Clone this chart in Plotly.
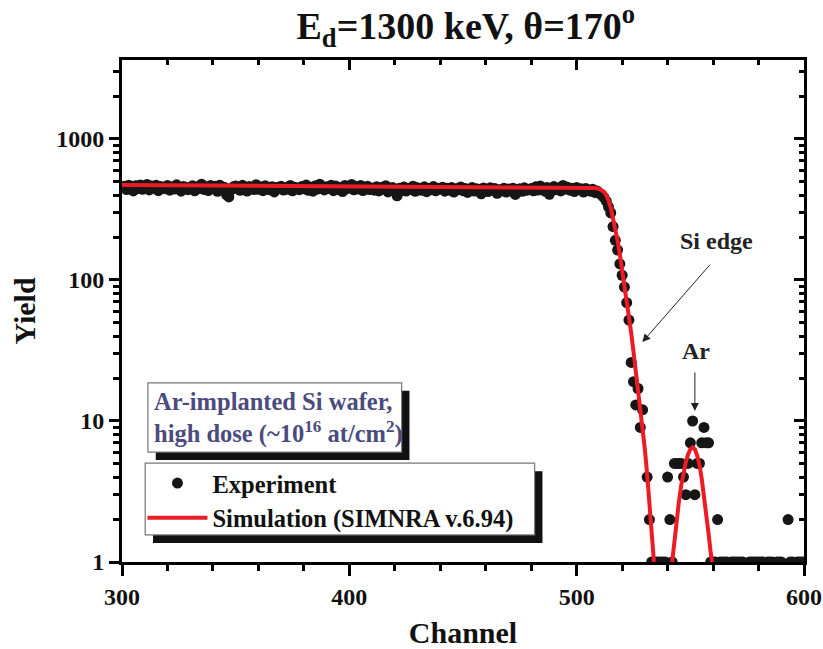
import plotly.graph_objects as go

# ---------------- data ----------------
exp_start = 300
exp_yield = [
    450, 462, 438, 470, 455, 428, 466, 445, 472, 440,
    458, 476, 435, 463, 449, 470, 430, 461, 452, 444,
    468, 433, 457, 441, 473, 448, 426, 460, 454, 437,
    451, 465, 429, 459, 446, 478, 439, 456, 431, 467,
    447, 462, 425, 470, 443, 455, 402, 388, 436, 458,
    464, 442, 432, 469, 450, 427, 461, 445, 438, 474,
    440, 457, 430, 466, 448, 436, 459, 421, 453, 446,
    462, 434, 451, 440, 468, 429, 455, 447, 437, 460,
    443, 471, 432, 452, 426, 465, 441, 478, 449, 435,
    458, 446, 470, 430, 463, 439, 453, 424, 467, 444,
    455, 476, 436, 460, 442, 468, 431, 450, 462, 438,
    447, 433, 459, 428, 453, 444, 466, 421, 440, 452,
    436, 395, 448, 430, 457, 427, 445, 439, 462, 425,
    450, 441, 432, 458, 423, 446, 437, 460, 429, 448,
    442, 455, 426, 447, 433, 452, 420, 444, 438, 457,
    430, 446, 418, 440, 452, 427, 443, 435, 408, 449,
    439, 424, 451, 433, 445, 412, 437, 428, 447, 420,
    441, 430, 448, 404, 436, 443, 425, 450, 432, 438,
    446, 429, 458, 434, 463, 440, 426, 452, 405, 444,
    460, 437, 449, 428, 468, 441, 455, 433, 447, 424,
    452, 438, 444, 420, 446, 432, 426, 440, 418, 428,   # 500-509
    412, 400, 385, 362, 330, 299, 239, 191, 163, 130,   # 510-519
    108, 89, 69, 52, 26, 19, 13, 17, 9, 12,             # 520-529
    0, 4, 2, 1, 1, 1, 1, 1, 1, 1,                       # 530-539
    4, 2, 1, 5, 5, 5, 5, 4, 3, 5,                       # 540-549
    7, 10, 3, 5, 5, 7, 9, 7, 7, 1,                      # 550-559
    1, 1, 2, 1, 1, 1, 1, 0, 1, 1,                       # 560-569
    1, 1, 1, 1, 0, 0, 1, 1, 1, 1,                       # 570-579
    1, 1, 1, 0, 1, 1, 1, 0, 1, 1,                       # 580-589
    1, 0, 0, 2, 1, 1, 0, 1, 1, 1,                       # 590-599
    1,                                                  # 600
]
exp_channel = list(range(exp_start, exp_start + len(exp_yield)))

sim_channel = [300, 350, 400, 450, 490, 500, 505, 508, 510, 511, 512, 513,
               514, 515, 516, 517, 518, 519, 520, 521, 522, 523, 524, 525,
               526, 527, 528, 529, 530, 531, 532, 533, 534, None,
               542, 543, 544, 545, 546, 547, 548, 549, 550, 551, 552, 553,
               554, 555, 556, 557, 558, 559, 559.6]
sim_yield = [472, 468, 464, 460, 457, 455, 453, 449, 442, 435, 422, 400,
             368, 325, 278, 232, 190, 152, 120, 94, 73, 56, 42, 31,
             23, 17, 13, 9.5, 6.3, 4.2, 2.7, 1.7, 1.0, None,
             1.0, 1.45, 2.0, 2.7, 3.5, 4.3, 5.1, 5.8, 6.3, 6.5, 6.3, 5.7,
             4.9, 3.9, 3.0, 2.2, 1.6, 1.15, 1.0]

x_major = [300, 400, 500, 600]
y_major = [1, 10, 100, 1000]
y_major_text = ["1", "10", "100", "1000"]

FONT = "Liberation Serif"
RED = "#ec1c24"

fig = go.Figure()
fig.add_trace(go.Scatter(
    x=exp_channel, y=exp_yield, mode="markers", name="Experiment",
    marker=dict(color="#161616", size=11, line=dict(width=0)),
))
fig.add_trace(go.Scatter(
    x=sim_channel, y=sim_yield, mode="lines", name="Simulation (SIMNRA v.6.94)",
    line=dict(color=RED, width=4), connectgaps=False,
))
fig.add_trace(go.Scatter(x=[], y=[], xaxis="x2", yaxis="y2", showlegend=False,
                         hoverinfo="skip"))

tickfont = dict(family=FONT, size=24, color="#111", weight="bold")

fig.update_layout(
    width=823, height=649,
    margin=dict(l=122, r=19, t=60, b=87),
    paper_bgcolor="white", plot_bgcolor="white",
    font=dict(family=FONT, color="#111"),
    title=dict(text="E<sub>d</sub>=1300 keV, θ=170<sup>o</sup>",
               font=dict(family=FONT, size=38, color="#111", weight="bold"),
               x=0.566, xanchor="center", yref="container", y=0.960, yanchor="middle"),
    xaxis=dict(range=[300, 600], tickvals=x_major, showgrid=False, zeroline=False,
               automargin=False,
               showline=True, linewidth=3, linecolor="black", mirror=False,
               ticks="outside", ticklen=11, tickwidth=3, tickcolor="black",
               minor=dict(dtick=20, tick0=300, ticks="outside", ticklen=6,
                          tickwidth=3, tickcolor="black", showgrid=False),
               tickfont=tickfont,
               title=dict(text="Channel", standoff=22,
                          font=dict(family=FONT, size=30, color="#111", weight="bold"))),
    yaxis=dict(type="log", range=[0, 3.56], tickvals=y_major, ticktext=y_major_text,
               showgrid=False, zeroline=False, automargin=False,
               showline=True, linewidth=3, linecolor="black", mirror=False,
               ticks="outside", ticklen=10, tickwidth=3, tickcolor="black",
               minor=dict(dtick="D1", ticks="outside", ticklen=6,
                          tickwidth=3, tickcolor="black", showgrid=False),
               tickfont=tickfont,
               title=dict(text="Yield", standoff=12,
                          font=dict(family=FONT, size=30, color="#111", weight="bold"))),
    xaxis2=dict(overlaying="x", side="top", anchor="y", range=[300, 600],
                automargin=False,
                tickvals=x_major, showticklabels=False, showgrid=False, zeroline=False,
                showline=True, linewidth=3, linecolor="black",
                ticks="inside", ticklen=10, tickwidth=3, tickcolor="black",
                minor=dict(dtick=20, tick0=300, ticks="inside", ticklen=5,
                           tickwidth=3, tickcolor="black", showgrid=False)),
    yaxis2=dict(overlaying="y", side="right", anchor="x", type="log", range=[0, 3.56],
                automargin=False,
                tickvals=y_major, showticklabels=False, showgrid=False, zeroline=False,
                showline=True, linewidth=3, linecolor="black",
                ticks="inside", ticklen=10, tickwidth=3, tickcolor="black",
                minor=dict(dtick="D1", ticks="inside", ticklen=5,
                           tickwidth=3, tickcolor="black", showgrid=False)),
    legend=dict(x=0.030, y=0.202, xanchor="left", yanchor="top",
                bgcolor="rgba(0,0,0,0)", borderwidth=0, itemwidth=60,
                font=dict(family=FONT, size=24.5, color="#111", weight="bold"),
                tracegroupgap=0),
    showlegend=True,
)

# boxes with drop shadows (paper coordinates)
boxes = [
    (0.038, 0.219, 0.410, 0.357),
    (0.034, 0.054, 0.605, 0.197),
]
shapes = []
for (x0, y0, x1, y1) in boxes:
    shapes.append(dict(type="rect", xref="paper", yref="paper",
                       x0=x0 + 0.0115, x1=x1 + 0.0115, y0=y0 - 0.016, y1=y1 - 0.016,
                       fillcolor="#111", line=dict(width=0), layer="above"))
    shapes.append(dict(type="rect", xref="paper", yref="paper",
                       x0=x0, x1=x1, y0=y0, y1=y1,
                       fillcolor="white", line=dict(color="#777", width=1.2), layer="above"))
fig.update_layout(shapes=shapes)

box_font = dict(family=FONT, size=24.5, color="#4b4b7d", weight="bold")
fig.add_annotation(xref="paper", yref="paper", x=0.044, y=0.319, xanchor="left",
                   yanchor="middle", showarrow=False, text="Ar-implanted Si wafer,",
                   font=box_font)
fig.add_annotation(xref="paper", yref="paper", x=0.044, y=0.257, xanchor="left",
                   yanchor="middle", showarrow=False,
                   text="high dose (~10<sup>16</sup> at/cm<sup>2</sup>)", font=box_font)

lab_font = dict(family=FONT, size=24, color="#222", weight="bold")
fig.add_annotation(xref="paper", yref="paper", x=0.871, y=0.639, showarrow=False,
                   xanchor="center", yanchor="middle", text="Si edge", font=lab_font)
fig.add_annotation(xref="paper", yref="paper", x=0.842, y=0.420, showarrow=False,
                   xanchor="center", yanchor="middle", text="Ar", font=lab_font)
# arrows
fig.add_annotation(xref="paper", yref="paper", x=0.763, y=0.438, ax=69, ay=-79,
                   text="", showarrow=True, arrowhead=2, arrowsize=1.6,
                   arrowwidth=1, arrowcolor="#222")
fig.add_annotation(xref="paper", yref="paper", x=0.840, y=0.301, ax=0, ay=-40,
                   text="", showarrow=True, arrowhead=2, arrowsize=1.6,
                   arrowwidth=1, arrowcolor="#222")

fig.write_html("out.html", config={"displayModeBar": False},
               post_script="document.body.style.margin='0';document.body.style.overflow='hidden';")
